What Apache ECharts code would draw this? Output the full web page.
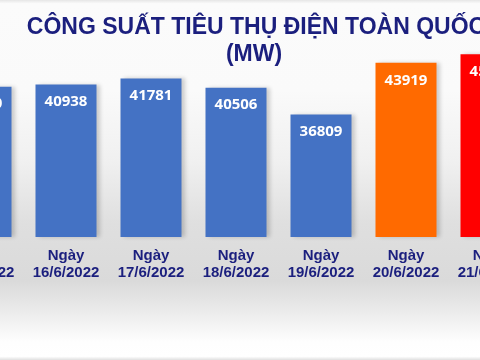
<!DOCTYPE html>
<html>
<head>
<meta charset="utf-8">
<script src="https://cdn.jsdelivr.net/npm/echarts@6/dist/echarts.min.js"></script>
<style>
html,body{margin:0;padding:0;width:480px;height:360px;overflow:hidden;position:relative;}
#c{position:absolute;left:-62px;top:0;width:604px;height:360px;}
</style>
</head>
<body>
<div id="c"></div>
<script>
var categories = ['Ngày\n15/6/2022','Ngày\n16/6/2022','Ngày\n17/6/2022','Ngày\n18/6/2022','Ngày\n19/6/2022','Ngày\n20/6/2022','Ngày\n21/6/2022'];
var values = [40650, 40938, 41781, 40506, 36809, 43919, 45100];
var barColors = ['#4472c4','#4472c4','#4472c4','#4472c4','#4472c4','#ff6a00','#ff0000'];
var titleLine1 = 'CÔNG SUẤT TIÊU THỤ ĐIỆN TOÀN QUỐC';
var titleLine2 = '(MW)';

var OFF = 62;
var chart = echarts.init(document.getElementById('c'));
chart.setOption({
  animation: false,
  backgroundColor: {
    type: 'linear', x: 0, y: 0, x2: 0, y2: 1,
    colorStops: [
      {offset: 0, color: '#e6e6e6'},
      {offset: 0.01, color: '#fbfbfb'},
      {offset: 0.25, color: '#fafafa'},
      {offset: 0.45, color: '#f0f0f0'},
      {offset: 0.62, color: '#dfdfdf'},
      {offset: 0.78, color: '#dadada'},
      {offset: 0.86, color: '#eaeaea'},
      {offset: 0.95, color: '#fefefe'},
      {offset: 0.99, color: '#ffffff'},
      {offset: 1, color: '#e0e0e0'}
    ]
  },
  graphic: [
    {type: 'text', x: 256 + OFF, y: 28, style: {text: titleLine1, align: 'center', verticalAlign: 'middle', font: 'bold 23px "Liberation Sans"', fill: '#1b1f7e'}},
    {type: 'text', x: 254 + OFF, y: 55, style: {text: titleLine2, align: 'center', verticalAlign: 'middle', font: 'bold 23px "Liberation Sans"', fill: '#1b1f7e'}}
  ],
  grid: {left: 0.5, right: 8.5, top: 47.7, bottom: 123, containLabel: false},
  xAxis: {
    type: 'category',
    data: categories,
    axisLine: {show: false},
    axisTick: {show: false},
    axisLabel: {
      interval: 0, margin: 10, color: '#1b1f7e',
      fontFamily: 'Liberation Sans', fontWeight: 'bold', fontSize: 15, lineHeight: 17
    }
  },
  yAxis: {
    type: 'value', min: 20000, max: 46000,
    show: false, splitLine: {show: false}
  },
  series: [{
    type: 'bar',
    barWidth: 61,
    data: values.map(function (v, i) { return {value: v, itemStyle: {color: barColors[i]}}; }),
    itemStyle: {shadowColor: 'rgba(0,0,0,0.18)', shadowBlur: 4, shadowOffsetX: 3, shadowOffsetY: 0},
    label: {
      show: true, position: 'insideTop', distance: 10,
      color: '#ffffff', fontFamily: 'Open Sans', fontWeight: 'bold', fontSize: 15
    }
  }]
});
</script>
</body>
</html>
